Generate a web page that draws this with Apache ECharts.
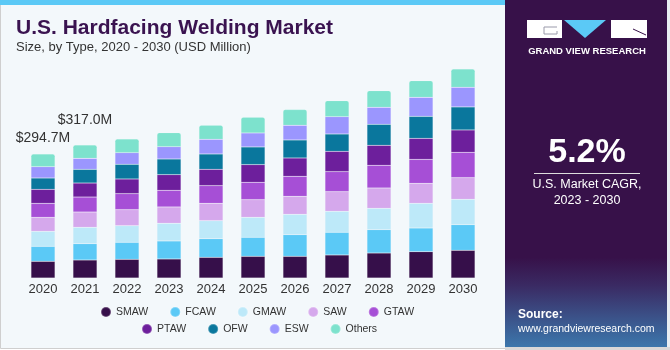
<!DOCTYPE html>
<html><head><meta charset="utf-8">
<script src="https://cdn.jsdelivr.net/npm/echarts@6/dist/echarts.min.js"></script>
<style>html,body{margin:0;padding:0;background:#fff}#c{width:670px;height:350px}</style>
</head><body><div id="c"></div>
<script>
var years = ['2020','2021','2022','2023','2024','2025','2026','2027','2028','2029','2030'];
var seriesNames = ['SMAW','FCAW','GMAW','SAW','GTAW','PTAW','OFW','ESW','Others'];
var smaw   = [39.6, 42.8, 44.4, 45.2, 49.1, 51.5, 51.5, 54.7, 59.4, 62.6, 65.8];
var fcaw   = [35.6, 38.8, 40.4, 42.8, 44.4, 45.2, 51.5, 53.9, 55.5, 56.2, 61.0];
var gmaw   = [35.6, 38.8, 39.6, 42.0, 42.8, 47.5, 48.3, 49.9, 50.7, 58.6, 60.2];
var saw    = [33.3, 36.4, 38.0, 38.8, 41.2, 42.0, 42.8, 46.7, 48.3, 47.5, 51.5];
var gtaw   = [33.3, 35.6, 38.0, 39.6, 42.0, 41.2, 47.5, 47.5, 53.9, 57.0, 60.2];
var ptaw   = [33.3, 33.3, 34.9, 37.2, 38.8, 42.0, 43.6, 48.3, 47.5, 49.9, 53.1];
var ofw    = [26.9, 32.5, 34.9, 37.2, 36.4, 42.0, 42.8, 41.2, 49.9, 52.3, 54.7];
var esw    = [26.9, 26.1, 27.7, 29.3, 34.9, 33.3, 34.9, 41.2, 40.4, 45.2, 46.7];
var others = [30.1, 31.7, 32.5, 33.3, 33.3, 37.2, 37.2, 38.0, 39.6, 39.6, 43.6];
var totalLabels = ['$294.7M', '$317.0M'];
var colors = ['#360f4a','#5bc9f6','#bde9f9','#d5a8ec','#a64fd6','#6d1f9c','#0a779d','#9b96fe','#7de2cd'];

var allData = [smaw, fcaw, gmaw, saw, gtaw, ptaw, ofw, esw, others];
var labelDist = [9, 18];
var series = seriesNames.map(function(n, i){
  var d = allData[i].map(function(v, j){
    if (i === 8 && j < totalLabels.length) {
      return {value: v, label: {show: true, position: 'top', distance: labelDist[j], formatter: totalLabels[j],
        fontSize: 14, color: '#333', fontFamily: 'Liberation Sans, Arial, sans-serif'}};
    }
    return v;
  });
  return {
    name: n, type: 'bar', stack: 'total', barWidth: 24, data: d,
    itemStyle: {color: colors[i], borderRadius: i === 8 ? [2,2,0,0] : 0, borderColor: 'rgba(255,255,255,0.25)', borderWidth: 0.5},
    emphasis: {disabled: true}
  };
});

var chart = echarts.init(document.getElementById('c'), null, {renderer: 'canvas'});
var ff = 'Liberation Sans, Arial, sans-serif';
chart.setOption({
  animation: false,
  backgroundColor: '#ffffff',
  color: colors,
  grid: {left: 22, width: 462, top: 25.5, bottom: 72},
  xAxis: {type: 'category', data: years, axisLine: {show: false}, axisTick: {show: false},
    axisLabel: {color: '#333', fontSize: 13, margin: 5, fontFamily: ff}},
  yAxis: {type: 'value', min: 0, max: 600, show: false, splitLine: {show: false}},
  legend: [
    {data: seriesNames.slice(0,5), left: 100, top: 306, padding: 0, icon: 'circle', itemWidth: 10, itemHeight: 10, itemGap: 21,
     textStyle: {fontSize: 10.5, color: '#333', fontFamily: ff}, selectedMode: false},
    {data: seriesNames.slice(5), left: 141, top: 323, padding: 0, icon: 'circle', itemWidth: 10, itemHeight: 10, itemGap: 21,
     textStyle: {fontSize: 10.5, color: '#333', fontFamily: ff}, selectedMode: false}
  ],
  graphic: [
    {type: 'rect', z: -10, shape: {x: 0.5, y: 0.5, width: 505, height: 348}, style: {fill: '#f3f8fb', stroke: '#cfcfcf', lineWidth: 1}},
    {type: 'rect', z: -9, shape: {x: 0, y: 0, width: 506, height: 5}, style: {fill: '#5bc9f6'}},
    {type: 'rect', z: -9, shape: {x: 505, y: 0, width: 165, height: 348}, style: {fill: {
      type: 'linear', x: 0, y: 0, x2: 0, y2: 1,
      colorStops: [{offset: 0, color: '#371149'}, {offset: 0.74, color: '#371149'}, {offset: 0.82, color: '#3a2a63'}, {offset: 1, color: '#3c78ad'}]}}},
    {type: 'rect', z: -8, shape: {x: 667, y: 0, width: 3, height: 350}, style: {fill: '#e8eef2'}},
    {type: 'rect', z: -8, shape: {x: 505, y: 347, width: 165, height: 3}, style: {fill: '#d8d8d8'}},
    {type: 'text', left: 16, top: 18, style: {text: 'U.S. Hardfacing Welding Market', font: 'bold 21px Liberation Sans, Arial, sans-serif', fill: '#3a1350'}},
    {type: 'text', left: 16, top: 41, style: {text: 'Size, by Type, 2020 - 2030 (USD Million)', font: '13px Liberation Sans, Arial, sans-serif', fill: '#333'}},
    // logo
    {type: 'rect', shape: {x: 527, y: 20, width: 35, height: 18}, style: {fill: '#ffffff'}},
    {type: 'polyline', shape: {points: [[557,27],[544,27],[544,34],[557,34],[557,31]]}, style: {stroke: '#9a9aaa', lineWidth: 1, fill: null}},
    {type: 'polygon', shape: {points: [[564,20],[606,20],[585,38]]}, style: {fill: '#5bc9f6'}},
    {type: 'rect', shape: {x: 611, y: 20, width: 36, height: 18}, style: {fill: '#ffffff'}},
    {type: 'polyline', shape: {points: [[633,29],[646,35]]}, style: {stroke: '#371149', lineWidth: 1}},
    {type: 'text', style: {x: 587, y: 51, text: 'GRAND VIEW RESEARCH', align: 'center', verticalAlign: 'middle', font: 'bold 9.5px Liberation Sans, Arial, sans-serif', fill: '#ffffff'}},
    {type: 'text', style: {x: 587, y: 153, text: '5.2%', align: 'center', verticalAlign: 'middle', font: 'bold 34px Liberation Sans, Arial, sans-serif', fill: '#ffffff'}},
    {type: 'line', shape: {x1: 534, y1: 173.5, x2: 640, y2: 173.5}, style: {stroke: '#dddddd', lineWidth: 1}},
    {type: 'text', style: {x: 587, y: 185, text: 'U.S. Market CAGR,', align: 'center', verticalAlign: 'middle', font: '12.5px Liberation Sans, Arial, sans-serif', fill: '#ffffff'}},
    {type: 'text', style: {x: 587, y: 201, text: '2023 - 2030', align: 'center', verticalAlign: 'middle', font: '12.5px Liberation Sans, Arial, sans-serif', fill: '#ffffff'}},
    {type: 'text', style: {x: 518, y: 315, text: 'Source:', verticalAlign: 'middle', font: 'bold 12px Liberation Sans, Arial, sans-serif', fill: '#ffffff'}},
    {type: 'text', style: {x: 518, y: 329, text: 'www.grandviewresearch.com', verticalAlign: 'middle', font: '10.5px Liberation Sans, Arial, sans-serif', fill: '#ffffff'}}
  ],
  series: series
});
</script></body></html>
